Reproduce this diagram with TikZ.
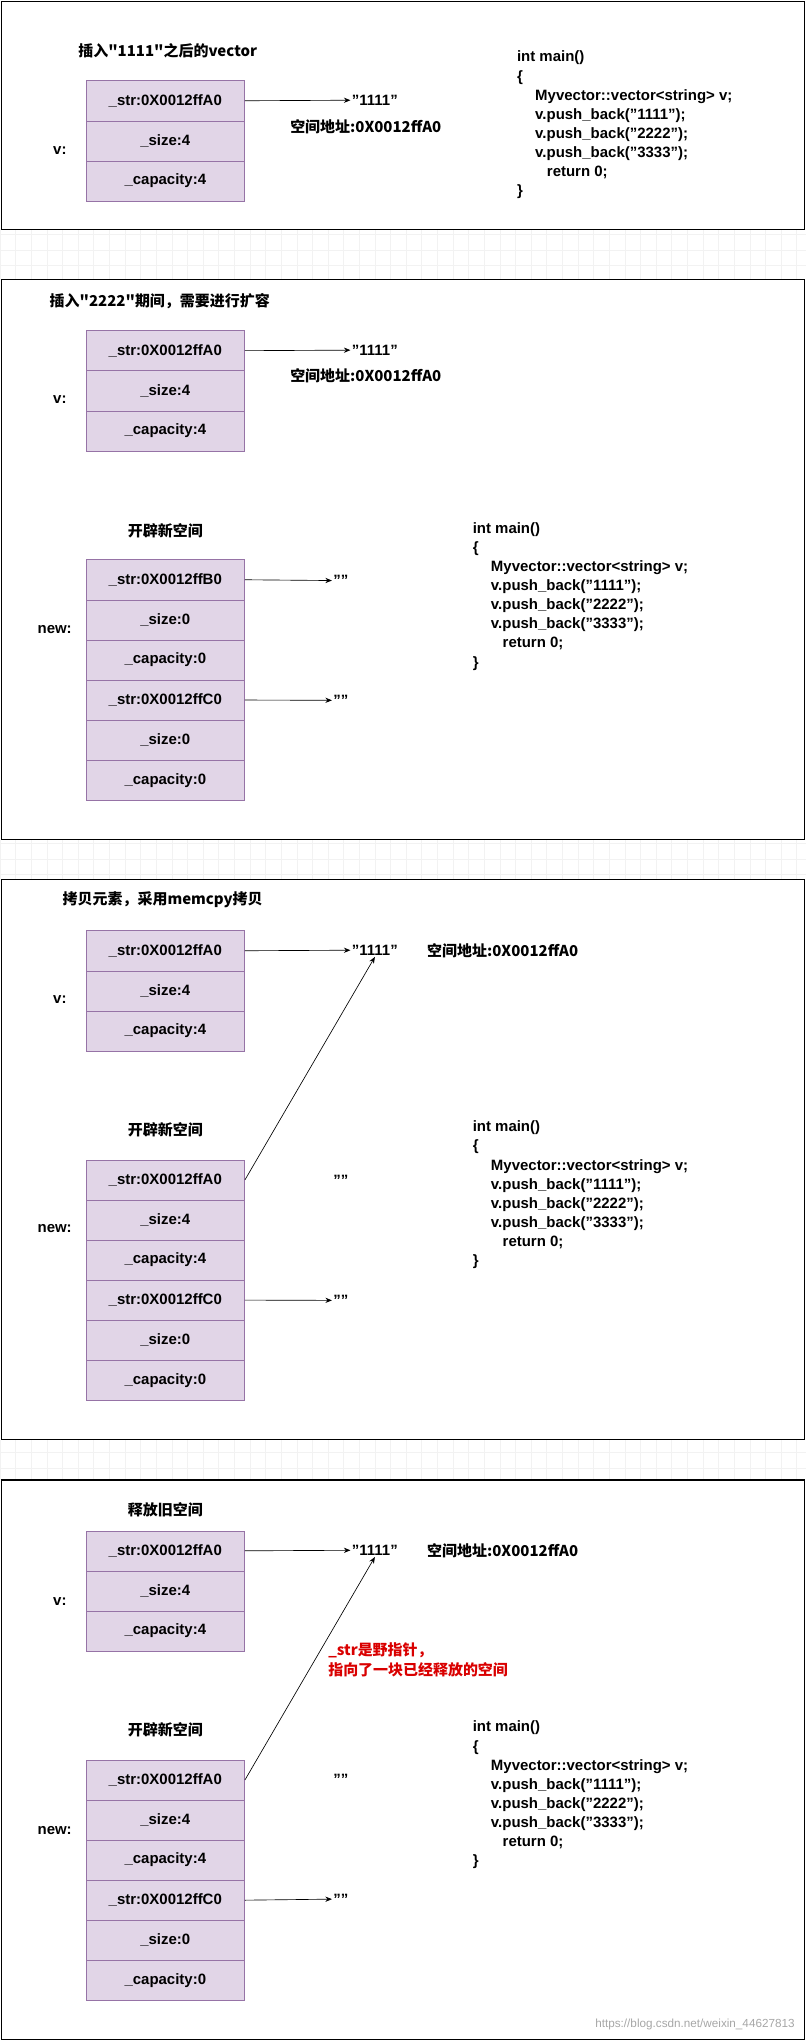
\documentclass[tikz,border=0pt]{standalone}
\usepackage{fontspec}
\setmainfont{Liberation Sans}
\newfontfamily\cjk{Noto Sans CJK SC}
\usetikzlibrary{arrows.meta, positioning}
\definecolor{cellfill}{HTML}{E1D5E7}
\definecolor{celldraw}{HTML}{9673A6}
\tikzset{
  cell/.style={rectangle, draw=celldraw, fill=cellfill, minimum width=122pt,
    minimum height=30.8pt, inner sep=0pt, font=\bfseries\fontsize{11.5}{13}\selectfont},
  lbl/.style={inner sep=1pt, font=\bfseries\fontsize{11.5}{13}\selectfont},
  cn/.style={inner sep=1pt, font=\cjk\bfseries\fontsize{11.5}{15}\selectfont},
  code/.style={anchor=north west, align=left, inner sep=0pt,
    font=\bfseries\fontsize{11.5}{14.7}\selectfont},
  panel/.style={draw, line width=0.8pt},
  line/.style={draw, -{Stealth[length=5pt,width=4pt]}, line width=0.5pt}
}
\newcommand{\codetext}{int main()\\\{\\\hspace*{14pt}Myvector::vector<string> v;\\
  \hspace*{14pt}v.push\_back("1111");\\\hspace*{14pt}v.push\_back("2222");\\
  \hspace*{14pt}v.push\_back("3333");\\\hspace*{23pt}return 0;\\\}}
\newcommand{\oldvec}[2]{% prefix, top y
  \foreach \t [count=\i] in {\_str:0X0012ffA0,\_size:4,\_capacity:4}
    \node[cell] (#1\i) at (127,#2+15.4+\i*30.8-30.8) {\t};}
\begin{document}
\begin{tikzpicture}[x=1pt, y=-1pt]
  \useasboundingbox (0,0) rectangle (619,1568);
  % grid between panels
  \foreach \ya/\yb in {176/215, 645/676, 1106/1137}
    \draw[black!5, step=12pt] (0,\ya) grid (619,\yb);
  \draw[panel] (1,1) rectangle (618,176);
  \draw[panel] (1,215) rectangle (618,645);
  \draw[panel] (1,676) rectangle (618,1106);
  \draw[panel] (1,1137) rectangle (618,1567);

  % panel 1
  \node[cn, anchor=west] (title1) at (59,39) {插入"1111"之后的vector};
  \oldvec{pa}{62}
  \node[lbl] (va) at (46,116) {v:};
  \node[lbl] (sa) at (288,77) {"1111"};
  \node[cn] (adra) at (281,97) {空间地址:0X0012ffA0};
  \path[line] (pa1.east) -- (sa.west);
  \node[code] (codea) at (397,39) {\codetext};

  % panel 2
  \node[cn, anchor=west] (title2) at (37,231) {插入"2222"期间，需要进行扩容};
  \oldvec{pb}{254}
  \node[lbl] (vb) at (46,307) {v:};
  \node[lbl] (sb) at (288,269) {"1111"};
  \node[cn] (adrb) at (281,289) {空间地址:0X0012ffA0};
  \path[line] (pb1.east) -- (sb.west);
  \node[cn] (newtb) at (127,408) {开辟新空间};
  \foreach \t [count=\i] in {\_str:0X0012ffB0,\_size:0,\_capacity:0,\_str:0X0012ffC0,\_size:0,\_capacity:0}
    \node[cell] (nb\i) at (127,430+15.4+\i*30.8-30.8) {\t};
  \node[lbl] (newb) at (42,484) {new:};
  \node[lbl, anchor=west] (eb1) at (255,446) {""};
  \node[lbl, anchor=west] (eb4) at (255,538) {""};
  \path[line] (nb1.east) -- (eb1.west);
  \path[line] (nb4.east) -- (eb4.west);
  \node[code] (codeb) at (363,401) {\codetext};

  % panel 3
  \node[cn, anchor=west] (title3) at (47,691) {拷贝元素，采用memcpy拷贝};
  \oldvec{pc}{715}
  \node[lbl] (vc) at (46,768) {v:};
  \node[lbl] (sc) at (288,730) {"1111"};
  \node[cn, anchor=west] (adrc) at (327,730) {空间地址:0X0012ffA0};
  \path[line] (pc1.east) -- (sc.west);
  \node[cn] (newtc) at (127,868) {开辟新空间};
  \foreach \t [count=\i] in {\_str:0X0012ffA0,\_size:4,\_capacity:4,\_str:0X0012ffC0,\_size:0,\_capacity:0}
    \node[cell] (nc\i) at (127,891+15.4+\i*30.8-30.8) {\t};
  \node[lbl] (newc) at (42,944) {new:};
  \node[lbl, anchor=west] (ec1) at (255,907) {""};
  \node[lbl, anchor=west] (ec4) at (255,999) {""};
  \path[line] (nc1.east) -- (sc.south);
  \path[line] (nc4.east) -- (ec4.west);
  \node[code] (codec) at (363,861) {\codetext};

  % panel 4
  \node[cn] (oldtd) at (127,1160) {释放旧空间};
  \oldvec{pd}{1176}
  \node[lbl] (vd) at (46,1230) {v:};
  \node[lbl] (sd) at (288,1191) {"1111"};
  \node[cn, anchor=west] (adrd) at (327,1191) {空间地址:0X0012ffA0};
  \path[line] (pd1.east) -- (sd.west);
  \node[cn, anchor=west, align=left, text=red!85!black] (note) at (251,1275)
    {\_str是野指针，\\指向了一块已经释放的空间};
  \node[cn] (newtd) at (127,1329) {开辟新空间};
  \foreach \t [count=\i] in {\_str:0X0012ffA0,\_size:4,\_capacity:4,\_str:0X0012ffC0,\_size:0,\_capacity:0}
    \node[cell] (nd\i) at (127,1352+15.4+\i*30.8-30.8) {\t};
  \node[lbl] (newd) at (42,1406) {new:};
  \node[lbl, anchor=west] (ed1) at (255,1367) {""};
  \node[lbl, anchor=west] (ed4) at (255,1459) {""};
  \path[line] (nd1.east) -- (sd.south);
  \path[line] (nd4.east) -- (ed4.west);
  \node[code] (coded) at (363,1322) {\codetext};
  \node[anchor=east, text=black!35, font=\fontsize{9}{10}\selectfont] (mark) at (614,1555)
    {https://blog.csdn.net/weixin\_44627813};
\end{tikzpicture}
\end{document}
